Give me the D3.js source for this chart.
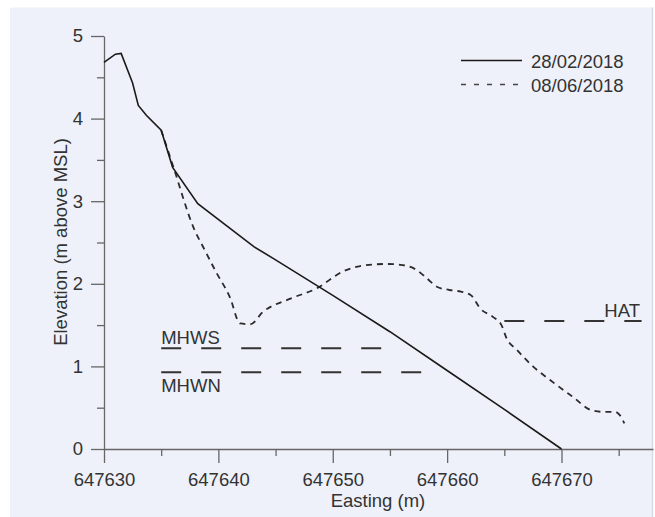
<!DOCTYPE html>
<html>
<head>
<meta charset="utf-8">
<script src="https://cdn.jsdelivr.net/npm/d3@7"></script>
<style>
  body { margin: 0; background: #fff; }
  svg text { font-family: "Liberation Sans", Arial, sans-serif; fill: #333; }
</style>
</head>
<body>
<svg class="profile" width="655" height="517"></svg>
<script>
// profile 28/02/2018 (solid)
var solidEasting = [647630, 647631, 647631.5, 647632.5, 647633, 647633.7, 647635, 647636, 647638.2, 647643.1, 647645, 647650, 647655, 647660, 647665, 647670];
var solidElev = [4.68, 4.78, 4.79, 4.43, 4.16, 4.04, 3.86, 3.41, 2.97, 2.45, 2.29, 1.86, 1.42, 0.95, 0.48, 0];

// profile 08/06/2018 (dashed)
var dashedEasting = [647635, 647636.1, 647637.8, 647638.8, 647639.85, 647641.0, 647641.9, 647642.8, 647643.9, 647646.3, 647648.6, 647650.9, 647652.4, 647654.7, 647655.9, 647657.3, 647658.2, 647659.1, 647660.2, 647661.2, 647662.1, 647662.9, 647664.0, 647664.75, 647665.2, 647666.1, 647667.5, 647669.0, 647671.0, 647672.6, 647673.6, 647674.7, 647675.1, 647675.5];
var dashedElev = [3.86, 3.40, 2.69, 2.41, 2.13, 1.84, 1.52, 1.51, 1.66, 1.82, 1.945, 2.15, 2.215, 2.24, 2.23, 2.17, 2.07, 1.965, 1.925, 1.905, 1.86, 1.70, 1.60, 1.50, 1.34, 1.20, 1.00, 0.835, 0.63, 0.47, 0.45, 0.45, 0.41, 0.31];

var seriesNames = ["28/02/2018", "08/06/2018"];

// tidal levels
var levelNames = ["MHWS", "MHWN", "HAT"];
var levelElev = [1.22, 0.93, 1.55];
var levelFrom = [647635, 647635, 647665];
var levelTo = [647654.5, 647658, 647677];

// ticks
var xTicks = [647630, 647640, 647650, 647660, 647670];
var xMinor = [647635, 647645, 647655, 647665, 647675];
var yTicks = [0, 1, 2, 3, 4, 5];
var yMinor = [0.5, 1.5, 2.5, 3.5, 4.5];

var svg = d3.select("svg.profile");

// panel background
svg.append("rect")
    .attr("x", 10).attr("y", 7.5)
    .attr("width", 642).attr("height", 510)
    .attr("fill", "#eef1f9");
svg.append("line")
    .attr("x1", 652.5).attr("x2", 652.5)
    .attr("y1", 7.5).attr("y2", 517)
    .attr("stroke", "#d3dbef").attr("stroke-width", 1.5);

var x = d3.scaleLinear().domain([647630, 647678]).range([104, 653]);
var y = d3.scaleLinear().domain([0, 5]).range([449, 36]);

var axisColor = "#666";

// x axis
var gx = svg.append("g").attr("transform", "translate(0,449)");
gx.call(d3.axisBottom(x).tickValues(xTicks).tickFormat(d3.format("d"))
        .tickSize(14).tickSizeOuter(0).tickPadding(10));
gx.append("g").call(d3.axisBottom(x).tickValues(xMinor).tickFormat("")
        .tickSize(7).tickSizeOuter(0))
    .select(".domain").remove();

// y axis
var gy = svg.append("g").attr("transform", "translate(104,0)");
gy.call(d3.axisLeft(y).tickValues(yTicks).tickFormat(d3.format("d"))
        .tickSize(13).tickSizeOuter(0).tickPadding(8));
gy.append("g").call(d3.axisLeft(y).tickValues(yMinor).tickFormat("")
        .tickSize(7).tickSizeOuter(0))
    .select(".domain").remove();

svg.selectAll(".domain, .tick line").attr("stroke", axisColor).attr("stroke-width", 1.3);
svg.selectAll(".tick text").attr("font-size", "18.5px").attr("font-family", null).attr("fill", "#333");

// axis titles
svg.append("text")
    .attr("x", 378).attr("y", 507)
    .attr("text-anchor", "middle")
    .attr("font-size", "18.5px")
    .text("Easting (m)");
svg.append("text")
    .attr("transform", "translate(67,242) rotate(-90)")
    .attr("text-anchor", "middle")
    .attr("font-size", "18.5px")
    .text("Elevation (m above MSL)");

// tidal level lines
levelNames.forEach(function(name, i) {
    svg.append("line")
        .attr("x1", x(levelFrom[i])).attr("x2", x(levelTo[i]))
        .attr("y1", y(levelElev[i])).attr("y2", y(levelElev[i]))
        .attr("stroke", "#333").attr("stroke-width", 2)
        .attr("stroke-dasharray", "20,20");
});
svg.append("text")
    .attr("x", x(levelFrom[0])).attr("y", y(levelElev[0]) - 4)
    .attr("font-size", "18.5px").text(levelNames[0]);
svg.append("text")
    .attr("x", x(levelFrom[1])).attr("y", y(levelElev[1]) + 20)
    .attr("font-size", "18.5px").text(levelNames[1]);
svg.append("text")
    .attr("x", 640).attr("y", y(levelElev[2]) - 4)
    .attr("text-anchor", "end")
    .attr("font-size", "18.5px").text(levelNames[2]);

// profiles
var dashedLine = d3.line()
    .x(function(d, i) { return x(dashedEasting[i]); })
    .y(function(d) { return y(d); })
    .curve(d3.curveMonotoneX);
var solidLine = d3.line()
    .x(function(d, i) { return x(solidEasting[i]); })
    .y(function(d) { return y(d); });

svg.append("path")
    .attr("d", dashedLine(dashedElev))
    .attr("fill", "none").attr("stroke", "#2b2b2b")
    .attr("stroke-width", 1.8).attr("stroke-dasharray", "6,5");
svg.append("path")
    .attr("d", solidLine(solidElev))
    .attr("fill", "none").attr("stroke", "#1a1a1a")
    .attr("stroke-width", 1.6);

// legend
var legend = svg.append("g");
seriesNames.forEach(function(name, i) {
    var ly = 60.5 + i * 24;
    legend.append("line")
        .attr("x1", 461).attr("x2", 522)
        .attr("y1", ly).attr("y2", ly)
        .attr("stroke", i === 0 ? "#1a1a1a" : "#444")
        .attr("stroke-width", 1.6)
        .attr("stroke-dasharray", i === 0 ? null : "5,8");
    legend.append("text")
        .attr("x", 531).attr("y", ly + 7)
        .attr("font-size", "18.5px")
        .text(name);
});
</script>
</body>
</html>
